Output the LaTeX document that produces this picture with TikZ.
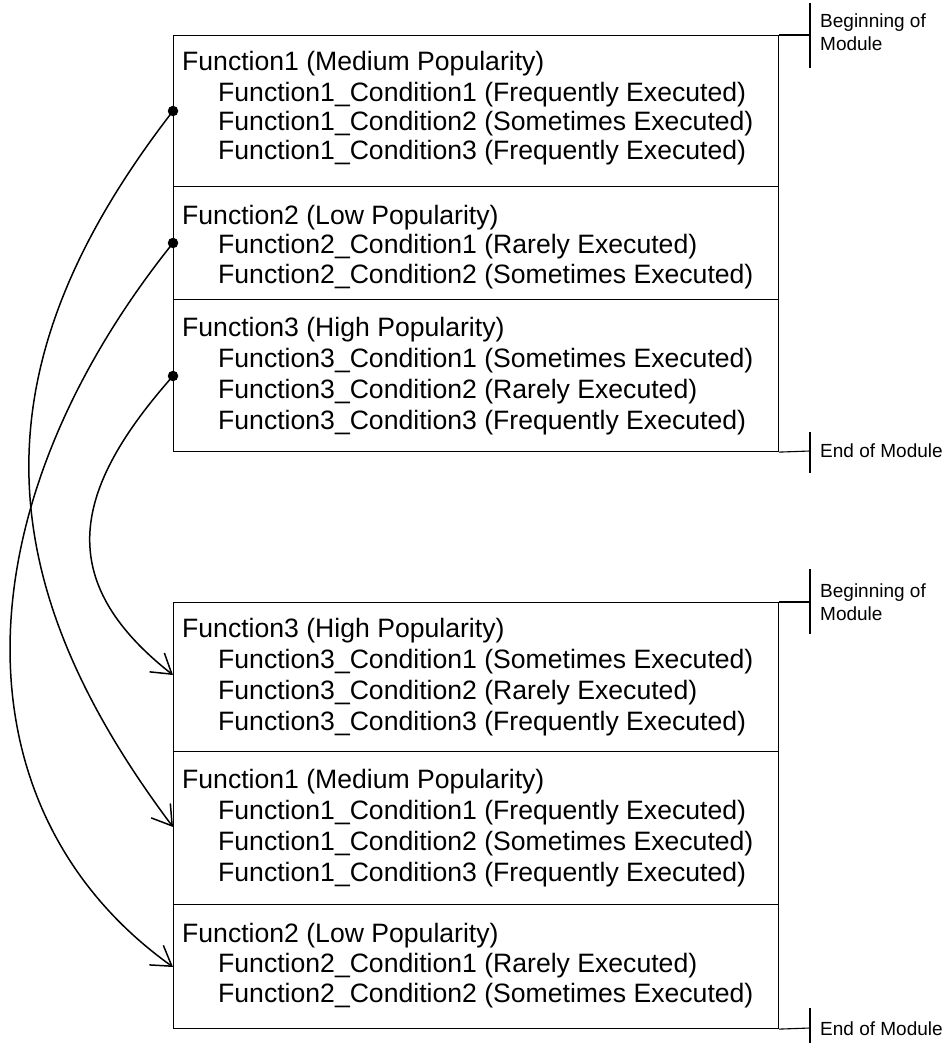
\documentclass[tikz,border=0pt]{standalone}
\usepackage{fontspec}
\setmainfont{Liberation Sans}
\usetikzlibrary{arrows.meta}
\begin{document}
\begin{tikzpicture}[x=1pt,y=-1pt,
  sec/.style={draw=black,line width=1.1pt,rectangle,inner sep=0pt,minimum width=605pt,anchor=north west},
  head/.style={anchor=base west,inner sep=0pt,font=\fontsize{26.6}{30}\selectfont},
  cond/.style={anchor=base west,inner sep=0pt,font=\fontsize{26.6}{30}\selectfont},
  lbl/.style={anchor=base west,inner sep=0pt,font=\fontsize{19}{22}\selectfont},
  mark line/.style={line width=1.1pt},
  dotnode/.style={circle,fill=black,inner sep=0pt,minimum size=10.5pt},
  link/.style={line width=1.5pt,-{Straight Barb[length=19pt,width=24pt,line width=1.5pt]}}]
\useasboundingbox (0,0) rectangle (950,1043);
% ---------- top module ----------
\node[sec,minimum height=151pt] (t1) at (173,35) {};
\node[sec,minimum height=113pt] (t2) at (173,186) {};
\node[sec,minimum height=152pt] (t3) at (173,299) {};
\node[head] (t1h) at (182,71) {Function1 (Medium Popularity)};
\node[cond] (t1a) at (218,102) {Function1\_Condition1 (Frequently Executed)};
\node[cond] (t1b) at (218,131) {Function1\_Condition2 (Sometimes Executed)};
\node[cond] (t1c) at (218,160) {Function1\_Condition3 (Frequently Executed)};
\node[head] (t2h) at (182,224) {Function2 (Low Popularity)};
\node[cond] (t2a) at (218,253) {Function2\_Condition1 (Rarely Executed)};
\node[cond] (t2b) at (218,283) {Function2\_Condition2 (Sometimes Executed)};
\node[head] (t3h) at (182,336) {Function3 (High Popularity)};
\node[cond] (t3a) at (218,367) {Function3\_Condition1 (Sometimes Executed)};
\node[cond] (t3b) at (218,398) {Function3\_Condition2 (Rarely Executed)};
\node[cond] (t3c) at (218,429) {Function3\_Condition3 (Frequently Executed)};
% module markers top
\coordinate (tb) at (810,35);
\coordinate (tbu) at (810,3);
\coordinate (tbd) at (810,68);
\coordinate (te) at (810,451);
\coordinate (teu) at (810,432);
\coordinate (ted) at (810,473);
\draw[mark line] (t1.north east) -- (tb);
\draw[mark line] (tbu) -- (tbd);
\draw[mark line] (t3.south east) -- (te);
\draw[mark line] (teu) -- (ted);
\node[lbl] (tl1) at (820,28) {Beginning of};
\node[lbl] (tl2) at (820,51) {Module};
\node[lbl] (tl3) at (820,457) {End of Module};
% ---------- bottom module ----------
\node[sec,minimum height=149pt] (b1) at (173,602) {};
\node[sec,minimum height=153pt] (b2) at (173,751) {};
\node[sec,minimum height=124pt] (b3) at (173,904) {};
\node[head] (b1h) at (182,637) {Function3 (High Popularity)};
\node[cond] (b1a) at (218,668) {Function3\_Condition1 (Sometimes Executed)};
\node[cond] (b1b) at (218,699) {Function3\_Condition2 (Rarely Executed)};
\node[cond] (b1c) at (218,730) {Function3\_Condition3 (Frequently Executed)};
\node[head] (b2h) at (182,788) {Function1 (Medium Popularity)};
\node[cond] (b2a) at (218,819) {Function1\_Condition1 (Frequently Executed)};
\node[cond] (b2b) at (218,850) {Function1\_Condition2 (Sometimes Executed)};
\node[cond] (b2c) at (218,881) {Function1\_Condition3 (Frequently Executed)};
\node[head] (b3h) at (182,942) {Function2 (Low Popularity)};
\node[cond] (b3a) at (218,972) {Function2\_Condition1 (Rarely Executed)};
\node[cond] (b3b) at (218,1002) {Function2\_Condition2 (Sometimes Executed)};
% module markers bottom
\coordinate (bb) at (810,602);
\coordinate (bbu) at (810,569);
\coordinate (bbd) at (810,634);
\coordinate (be) at (810,1028);
\coordinate (beu) at (810,1008);
\coordinate (bed) at (810,1043);
\draw[mark line] (b1.north east) -- (bb);
\draw[mark line] (bbu) -- (bbd);
\draw[mark line] (b3.south east) -- (be);
\draw[mark line] (beu) -- (bed);
\node[lbl] (bl1) at (820,597) {Beginning of};
\node[lbl] (bl2) at (820,620) {Module};
\node[lbl] (bl3) at (820,1035) {End of Module};
% ---------- connectors ----------
\node[dotnode] (d1) at (173,111) {};
\node[dotnode] (d2) at (173,243) {};
\node[dotnode] (d3) at (173,376) {};
\coordinate (e3) at (173,675);
\coordinate (e1) at (173,827);
\coordinate (e2) at (173,967);
\draw[link] (d1.center) .. controls (-19,359) and (-19,571) .. (e1);
\draw[link] (d2.center) .. controls (-44,514) and (-44,812) .. (e2);
\draw[link] (d3.center) .. controls (73,489) and (52,580) .. (e3);
\end{tikzpicture}
\end{document}
